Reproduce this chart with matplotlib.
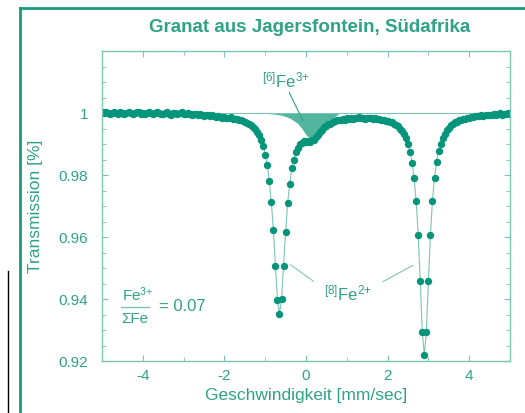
# passo 1 - bibliotecas
import matplotlib.pyplot as plt
import numpy as np
from matplotlib.lines import Line2D

plt.rcParams['font.family'] = ['Liberation Sans', 'DejaVu Sans']
plt.rcParams['mathtext.fontset'] = 'custom'
plt.rcParams['mathtext.rm'] = 'Liberation Sans'
plt.rcParams['mathtext.it'] = 'Liberation Sans:italic'
plt.rcParams['mathtext.bf'] = 'Liberation Sans:bold'
plt.rcParams['axes.unicode_minus'] = False

# passo 2 (velocidade de -5 a 5 mm/s, passo 0.05)
transmissao = [
    1.0002, 0.9999, 1.0003, 1.0000, 0.9997, 1.0001, 1.0004, 1.0000, 0.9998, 1.0002,
    0.9999, 0.9996, 1.0001, 1.0003, 0.9999, 0.9997, 1.0000, 1.0004, 1.0002, 0.9998,
    1.0001, 0.9997, 0.9999, 1.0002, 1.0000, 0.9996, 0.9999, 1.0003, 1.0001, 0.9998,
    0.9996, 1.0000, 1.0002, 0.9998, 0.9995, 0.9999, 1.0001, 0.9997, 0.9999, 1.0002,
    0.9998, 0.9996, 0.9999, 0.9997, 0.9994, 0.9998, 0.9996, 0.9993, 0.9997, 0.9995,
    0.9991, 0.9994, 0.9992, 0.9989, 0.9993, 0.9990, 0.9987, 0.9990, 0.9988, 0.9985,
    0.9988, 0.9985, 0.9983, 0.9986, 0.9982, 0.9980, 0.9981, 0.9977, 0.9976, 0.9974,
    0.9971, 0.9967, 0.9964, 0.9960, 0.9954, 0.9949, 0.9940, 0.9928, 0.9912, 0.9895,
    0.9866, 0.9832, 0.9780, 0.9713, 0.9621, 0.9508, 0.9398, 0.9352, 0.9401, 0.9507,
    0.9616, 0.9710, 0.9770, 0.9821, 0.9849, 0.9874, 0.9887, 0.9900, 0.9903, 0.9910,
    0.9906, 0.9909, 0.9907, 0.9912, 0.9914, 0.9923, 0.9929, 0.9940, 0.9946, 0.9955,
    0.9958, 0.9963, 0.9966, 0.9971, 0.9973, 0.9977, 0.9978, 0.9976, 0.9981, 0.9979,
    0.9983, 0.9980, 0.9984, 0.9982, 0.9985, 0.9983, 0.9986, 0.9983, 0.9985, 0.9982,
    0.9985, 0.9983, 0.9984, 0.9981, 0.9983, 0.9980, 0.9981, 0.9978, 0.9979, 0.9975,
    0.9975, 0.9972, 0.9970, 0.9965, 0.9962, 0.9957, 0.9950, 0.9942, 0.9932, 0.9919,
    0.9900, 0.9875, 0.9840, 0.9790, 0.9716, 0.9607, 0.9457, 0.9295, 0.9220, 0.9293,
    0.9458, 0.9605, 0.9717, 0.9791, 0.9841, 0.9878, 0.9901, 0.9920, 0.9933, 0.9945,
    0.9952, 0.9960, 0.9964, 0.9970, 0.9972, 0.9977, 0.9978, 0.9982, 0.9981, 0.9985,
    0.9984, 0.9988, 0.9986, 0.9990, 0.9989, 0.9991, 0.9993, 0.9990, 0.9994, 0.9992,
    0.9995, 0.9993, 0.9997, 0.9994, 0.9996, 0.9999, 0.9995, 0.9998, 0.9996, 0.9999,
    0.9997,
]
velocidade = np.linspace(-5, 5, len(transmissao))

# componente Fe3+ (area preenchida)
fe3_v = [-1.0, -0.8, -0.6, -0.4, -0.2, -0.1, 0.0, 0.1, 0.2, 0.3, 0.4, 0.5, 0.6, 0.7, 0.8]
fe3_t = [0.9999, 0.9997, 0.9993, 0.9984, 0.9966, 0.9950, 0.9930, 0.9918, 0.9915,
         0.9920, 0.9935, 0.9955, 0.9972, 0.9988, 0.9998]

y_ticks = [0.92, 0.94, 0.96, 0.98, 1.0]
y_labels = ['0.92', '0.94', '0.96', '0.98', '1']
x_ticks = [-4, -2, 0, 2, 4]

cor = '#05957a'
cor_texto = '#2fa387'
cor_clara = '#7cc6b3'
cor_fill = '#52b69e'

# passo 3 - figura
fig = plt.figure(figsize=(5.25, 4.13), dpi=100)
ax = fig.add_axes([0.1943, 0.1259, 0.7771, 0.7506])

# moldura verde e linha preta
fig.add_artist(Line2D([0.038, 0.038], [0, 0.981], color='#1a9a80', lw=2))
fig.add_artist(Line2D([0.038, 1.0], [0.981, 0.981], color='#1a9a80', lw=2))
fig.add_artist(Line2D([0.0143, 0.0143], [0, 0.344], color='black', lw=1))

# passo 4 - plotar
ax.axhline(1.0, color=cor_clara, lw=0.8)
ax.fill_between(fe3_v, fe3_t, 1.0, color=cor_fill, lw=0)
ax.plot(velocidade, transmissao, color=cor_clara, lw=0.8)
ax.plot(velocidade, transmissao, 'o', color=cor, ms=4.3, mec=cor)

ax.set_xlim(-5, 5)
ax.set_ylim(0.92, 1.02)
ax.set_xticks(x_ticks)
ax.set_xticks(np.arange(-5, 5.5, 1), minor=True)
ax.set_yticks(y_ticks)
ax.set_yticklabels(y_labels)
ax.set_yticks(np.arange(0.92, 1.021, 0.005), minor=True)
ax.tick_params(which='both', direction='in', top=True, right=True,
               color=cor_clara, labelcolor=cor_texto, labelsize=11)
ax.tick_params(axis='y', which='major', pad=10, length=4)
ax.tick_params(axis='x', which='major', pad=6, length=4)
ax.tick_params(which='minor', length=3)
for s in ax.spines.values():
    s.set_color(cor_clara)
    s.set_linewidth(1)

# titulos
ax.set_xlabel('Geschwindigkeit [mm/sec]', color=cor_texto, fontsize=12.5, va='top')
ax.xaxis.set_label_coords(0.5, -0.087)
ax.set_ylabel('Transmission [%]', color=cor_texto, fontsize=12.5)
ax.yaxis.set_label_coords(-0.145, 0.5)
fig.text(310 / 525, 1 - 27 / 413, 'Granat aus Jagersfontein, Südafrika',
         ha='center', va='center', fontsize=13.5, weight='bold', color=cor_texto)

# anotacoes
ax.text(-0.5, 1.0106, r'$^{\mathrm{[6]}}$Fe$^{\mathrm{3{+}}}$', ha='center', va='center',
        fontsize=12, color=cor_texto)
ax.annotate('', xy=(-0.05, 0.9968), xytext=(-0.44, 1.0074),
            arrowprops=dict(arrowstyle='-', color=cor_texto, lw=0.8))
ax.text(1.04, 0.9419, r'$^{\mathrm{[8]}}$Fe$^{\mathrm{2{+}}}$', ha='center', va='center',
        fontsize=12, color=cor_texto)
ax.annotate('', xy=(-0.44, 0.9516), xytext=(0.24, 0.9452),
            arrowprops=dict(arrowstyle='-', color=cor_clara, lw=0.8))
ax.annotate('', xy=(2.68, 0.9513), xytext=(1.83, 0.9452),
            arrowprops=dict(arrowstyle='-', color=cor_clara, lw=0.8))

# fracao Fe3+/SumFe
ax.text(-4.51, 0.9413, r'Fe$^{\mathrm{3{+}}}$', ha='left', va='center', fontsize=11, color=cor_texto)
ax.plot([-4.54, -3.85], [0.9374, 0.9374], color=cor_clara, lw=1)
ax.text(-4.54, 0.9337, 'ΣFe', ha='left', va='center', fontsize=11, color=cor_texto)
ax.text(-3.61, 0.9377, '= 0.07', ha='left', va='center', fontsize=12, color=cor_texto)

# passo 5 - salvar
fig.savefig('out.png', dpi=100)
